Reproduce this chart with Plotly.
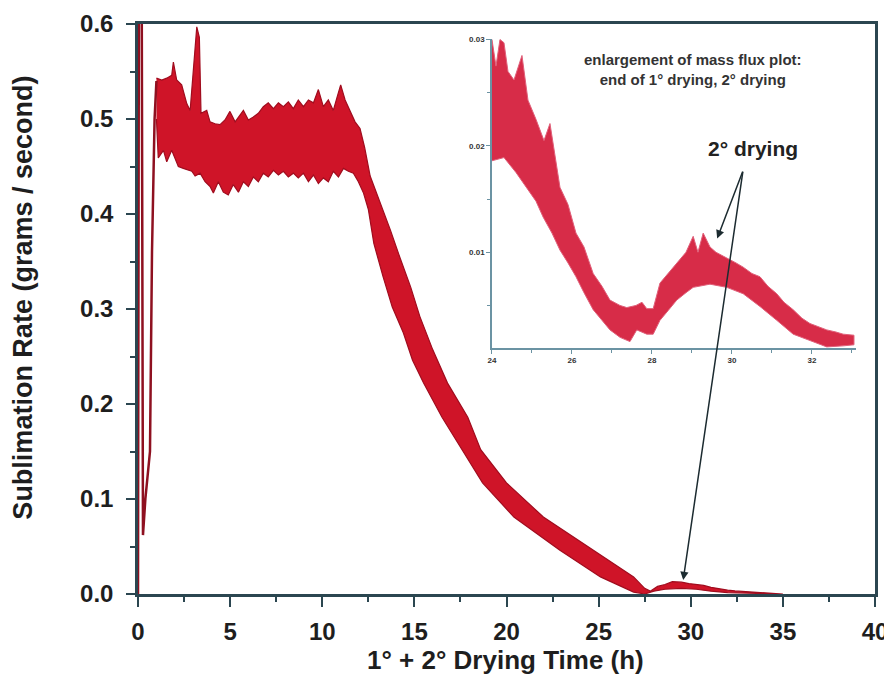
import plotly.graph_objects as go

# ---------------------------------------------------------------------------
# main plot: start-up transient (single trace)
SPIKE_T = [0.0, 0.05, 0.20, 0.27, 0.40, 0.55, 0.65, 0.76, 0.90, 1.00]
SPIKE_V = [0.0, 0.65, 0.65, 0.062, 0.10, 0.13, 0.15, 0.36, 0.50, 0.54]

# main plot: noisy band, upper / lower envelope
UP_T = [1.0, 1.29, 1.56, 1.83, 1.92, 2.1, 2.37, 2.65, 2.83, 3.0, 3.19, 3.33,
        3.42, 3.73, 3.91, 4.18, 4.45, 4.72, 4.99, 5.27, 5.54, 5.72, 5.99,
        6.26, 6.53, 6.80, 7.07, 7.35, 7.62, 7.89, 8.16, 8.43, 8.70, 8.98,
        9.25, 9.52, 9.79, 10.06, 10.33, 10.60, 10.79, 11.0, 11.24, 11.51,
        11.78, 12.05, 12.3, 12.6, 13.1, 13.7, 14.2, 14.8, 15.3, 16.0, 16.8,
        17.9, 18.6, 20.0, 22.0, 24.7, 26.9, 27.5, 27.8, 28.2, 28.6, 29.0,
        29.5, 29.9, 30.3, 30.7, 31.1, 31.5, 32.0, 32.4, 33.0, 34.0, 34.8,
        35.0]
UP_V = [0.543, 0.541, 0.543, 0.546, 0.560, 0.541, 0.536, 0.516, 0.509, 0.555,
        0.597, 0.586, 0.506, 0.509, 0.497, 0.495, 0.494, 0.499, 0.508, 0.497,
        0.504, 0.509, 0.499, 0.502, 0.506, 0.513, 0.517, 0.511, 0.517, 0.513,
        0.518, 0.511, 0.520, 0.513, 0.520, 0.517, 0.531, 0.513, 0.520, 0.509,
        0.522, 0.536, 0.520, 0.509, 0.497, 0.490, 0.470, 0.440, 0.415, 0.383,
        0.355, 0.323, 0.292, 0.257, 0.222, 0.186, 0.152, 0.117, 0.081, 0.046,
        0.018, 0.006, 0.003, 0.008, 0.010, 0.013, 0.0125, 0.011, 0.010, 0.009,
        0.007, 0.0055, 0.004, 0.0032, 0.0025, 0.0015, 0.0008, 0.0]

LO_T = [1.0, 1.1, 1.38, 1.56, 1.83, 2.19, 2.46, 2.74, 2.92, 3.1, 3.37, 3.64,
        3.91, 4.09, 4.36, 4.63, 4.90, 5.17, 5.45, 5.72, 5.99, 6.26, 6.53,
        6.80, 7.07, 7.35, 7.62, 7.89, 8.16, 8.43, 8.70, 8.98, 9.25, 9.52,
        9.79, 10.06, 10.33, 10.60, 10.88, 11.15, 11.42, 11.69, 11.96, 12.24,
        12.5, 12.8, 13.3, 13.8, 14.4, 14.9, 15.5, 16.5, 17.6, 18.7, 20.4,
        22.9, 25.1, 26.9, 27.5, 28.0, 28.6, 29.5, 30.3, 31.1, 32.0, 33.0,
        34.0, 35.0]
LO_V = [0.500, 0.459, 0.467, 0.455, 0.467, 0.450, 0.448, 0.446, 0.445, 0.440,
        0.443, 0.434, 0.429, 0.422, 0.434, 0.423, 0.420, 0.431, 0.423, 0.434,
        0.429, 0.439, 0.434, 0.443, 0.439, 0.446, 0.441, 0.445, 0.439, 0.443,
        0.438, 0.443, 0.434, 0.441, 0.432, 0.438, 0.434, 0.445, 0.439, 0.448,
        0.445, 0.443, 0.434, 0.422, 0.405, 0.369, 0.334, 0.302, 0.275, 0.246,
        0.222, 0.186, 0.152, 0.117, 0.081, 0.046, 0.018, 0.002, 0.0, 0.003,
        0.005, 0.006, 0.005, 0.003, 0.0015, 0.001, 0.0004, 0.0]

# inset: enlargement 24 - 33 h
IN_UP_T = [24.0, 24.1, 24.2, 24.3, 24.4, 24.55, 24.75, 24.9, 25.1, 25.3,
           25.45, 25.7, 25.9, 26.1, 26.3, 26.53, 26.75, 26.95, 27.2, 27.37,
           27.6, 27.75, 27.87, 28.03, 28.2, 28.4, 28.62, 28.85, 29.03, 29.15,
           29.28, 29.45, 29.6, 29.87, 30.1, 30.28, 30.5, 30.7, 30.9, 31.12,
           31.3, 31.53, 31.75, 31.95, 32.15, 32.37, 32.6, 32.78, 33.05]
IN_UP_V = [0.0300, 0.0275, 0.0300, 0.0297, 0.0270, 0.0262, 0.0285, 0.0243,
           0.0225, 0.0205, 0.0221, 0.0161, 0.0145, 0.0118, 0.0105, 0.0080,
           0.0068, 0.0055, 0.0050, 0.0048, 0.0050, 0.0053, 0.0047, 0.0047,
           0.0071, 0.0080, 0.0090, 0.0100, 0.0115, 0.0100, 0.0118, 0.0105,
           0.0100, 0.0095, 0.0090, 0.0086, 0.0080, 0.0077, 0.0068, 0.0061,
           0.0053, 0.0046, 0.0038, 0.0033, 0.0030, 0.0027, 0.0025, 0.0023,
           0.0022]
IN_LO_T = [24.0, 24.3, 24.6, 24.87, 25.1, 25.28, 25.5, 25.7, 25.9, 26.1,
           26.3, 26.53, 26.75, 26.95, 27.2, 27.45, 27.62, 27.87, 28.03, 28.2,
           28.4, 28.62, 28.85, 29.03, 29.45, 29.87, 30.28, 30.7, 31.12, 31.53,
           31.95, 32.37, 32.78, 33.05]
IN_LO_V = [0.0186, 0.0189, 0.0175, 0.0161, 0.0148, 0.0133, 0.0118, 0.0102,
           0.0090, 0.0077, 0.0062, 0.0046, 0.0036, 0.0027, 0.0020, 0.0016,
           0.0027, 0.0023, 0.0023, 0.0036, 0.0045, 0.0055, 0.0062, 0.0067,
           0.0070, 0.0067, 0.0061, 0.0049, 0.0036, 0.0023, 0.0017, 0.0011,
           0.0012, 0.0013]

X_TICKS = [0, 5, 10, 15, 20, 25, 30, 35, 40]
Y_TICKS = [0.0, 0.1, 0.2, 0.3, 0.4, 0.5, 0.6]
IN_X_TICKS = [24, 26, 28, 30, 32]
IN_Y_TICKS = [0.01, 0.02, 0.03]

RED = "#cf1428"
RED_EDGE = "#a00c1e"
AXIS = "#2b4650"
INSET_AXIS = "#6b93a3"
FONT = "Arial, Liberation Sans, sans-serif"
# ---------------------------------------------------------------------------

fig = go.Figure()

fig.add_trace(go.Scatter(
    x=UP_T + LO_T[::-1], y=UP_V + LO_V[::-1],
    fill="toself", fillcolor=RED, mode="lines",
    line=dict(color=RED_EDGE, width=1.2),
    xaxis="x", yaxis="y", hoverinfo="skip",
))
fig.add_trace(go.Scatter(
    x=SPIKE_T, y=SPIKE_V, mode="lines",
    line=dict(color="#8e1020", width=2.5),
    xaxis="x", yaxis="y",
))
fig.add_trace(go.Scatter(
    x=IN_UP_T + IN_LO_T[::-1], y=IN_UP_V + IN_LO_V[::-1],
    fill="toself", fillcolor="rgba(212,26,56,0.92)", mode="lines",
    line=dict(color="#e0607a", width=1),
    xaxis="x2", yaxis="y2", hoverinfo="skip",
))

main_tick = dict(family=FONT, size=24, color="#1e1e1e", weight="bold")
fig.update_layout(
    # the page body adds 8 px on the left and top
    width=884, height=685,
    margin=dict(l=130, r=17, t=16, b=99),
    paper_bgcolor="white", plot_bgcolor="white",
    showlegend=False,
    xaxis=dict(
        range=[0, 40], tickvals=X_TICKS, ticks="outside", ticklen=10,
        tickwidth=2, tickcolor=AXIS, showline=True, linecolor=AXIS,
        linewidth=2.5, mirror=True, showgrid=False, zeroline=False,
        tickfont=main_tick, ticklabelstandoff=4, automargin=False,
        minor=dict(dtick=2.5, ticks="outside", ticklen=5, tickwidth=2,
                   tickcolor=AXIS, showgrid=False),
    ),
    yaxis=dict(
        range=[0, 0.6], tickvals=Y_TICKS, tickformat=".1f", ticks="outside",
        ticklen=9, tickwidth=2, tickcolor=AXIS, showline=True, linecolor=AXIS,
        linewidth=2.5, mirror=True, showgrid=False, zeroline=False,
        tickfont=main_tick, ticklabelstandoff=8, automargin=False,
        minor=dict(dtick=0.05, ticks="outside", ticklen=5, tickwidth=2,
                   tickcolor=AXIS, showgrid=False),
    ),
    xaxis2=dict(
        domain=[0.4803, 0.9742], anchor="y2", range=[24, 33.1],
        tickvals=IN_X_TICKS, ticks="outside", ticklen=4, tickwidth=1.2,
        tickcolor=INSET_AXIS, showline=True, linecolor=INSET_AXIS,
        linewidth=1.5, showgrid=False, zeroline=False, automargin=False,
        tickfont=dict(family=FONT, size=8, color="#333", weight="bold"),
        minor=dict(dtick=1, ticks="outside", ticklen=3, tickwidth=1,
                   tickcolor=INSET_AXIS, showgrid=False),
    ),
    yaxis2=dict(
        domain=[0.4316, 0.9737], anchor="x2", range=[0.001, 0.03005],
        tickvals=IN_Y_TICKS, tickformat=".2f", ticks="outside", ticklen=4,
        tickwidth=1.2, tickcolor=INSET_AXIS, showline=True,
        linecolor=INSET_AXIS, linewidth=1.5, showgrid=False, zeroline=False,
        automargin=False,
        tickfont=dict(family=FONT, size=8, color="#333", weight="bold"),
        minor=dict(dtick=0.005, tick0=0, ticks="outside", ticklen=3,
                   tickwidth=1, tickcolor=INSET_AXIS, showgrid=False),
    ),
)

title_font = dict(family=FONT, size=26, color="#1e1e1e", weight="bold")
arrow = dict(showarrow=True, arrowhead=2, arrowsize=1.1, arrowwidth=1.5,
             arrowcolor="#1c2b30", text="")
fig.add_annotation(text="1° + 2° Drying Time (h)", xref="paper", yref="paper",
                   x=0.498, y=-0.116, showarrow=False, font=title_font,
                   xanchor="center", yanchor="middle")
fig.add_annotation(text="Sublimation Rate (grams / second)", xref="paper",
                   yref="paper", x=-0.156, y=0.52, textangle=-90,
                   showarrow=False,
                   font=dict(family=FONT, size=27, color="#1e1e1e", weight="bold"),
                   xanchor="center", yanchor="middle")
fig.add_annotation(text="enlargement of mass flux plot:<br>end of 1° drying, 2° drying",
                   xref="paper", yref="paper", x=0.753, y=0.921,
                   showarrow=False, xanchor="center", yanchor="middle",
                   font=dict(family=FONT, size=15, color="#333", weight="bold"))
fig.add_annotation(text="2° drying", xref="paper", yref="paper", x=0.834,
                   y=0.781, showarrow=False, xanchor="center", yanchor="middle",
                   font=dict(family=FONT, size=21, color="#222", weight="bold"))
fig.add_annotation(x=29.63, y=0.0113, xref="x2", yref="y2",
                   ax=30.28, ay=0.0177, axref="x2", ayref="y2", **arrow)
fig.add_annotation(x=29.59, y=0.0147, xref="x", yref="y",
                   ax=32.84, ay=0.4463, axref="x", ayref="y", **arrow)

fig.write_html("out.html")
